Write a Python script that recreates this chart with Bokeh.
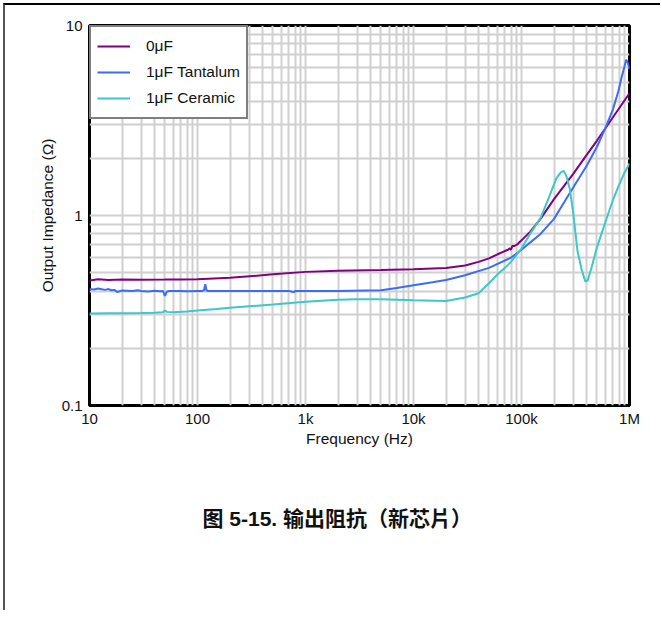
from bokeh.plotting import figure
from bokeh.models import FixedTicker, Legend, LegendItem, Title, InlineStyleSheet
from bokeh.embed import file_html
from bokeh.resources import INLINE

# ---- data ----
freq_0uF = [10, 12, 15, 20, 30, 50, 70, 100, 200, 500, 1000, 2000, 5000, 10000,
            20000, 30000, 40000, 50000, 60000, 70000, 75000, 78000, 80000, 82000,
            85000, 90000, 100000, 120000, 150000, 200000, 300000, 400000, 500000,
            700000, 1000000]
z_0uF = [0.455, 0.462, 0.458, 0.46, 0.459, 0.46, 0.461, 0.462, 0.47, 0.49, 0.505,
         0.512, 0.516, 0.522, 0.53, 0.545, 0.57, 0.595, 0.625, 0.65, 0.66, 0.672,
         0.66, 0.69, 0.69, 0.70, 0.74, 0.82, 0.96, 1.22, 1.65, 2.08, 2.48, 3.28, 4.4]

freq_tant = [10, 11, 12, 13, 14, 15, 16, 17, 18, 20, 22, 25, 28, 30, 35, 40, 45, 48,
             50, 52, 55, 60, 70, 80, 100, 110, 115, 118, 121, 125, 130, 150, 200, 300,
             500, 700, 760, 780, 800, 1000, 2000, 5000, 7000, 10000, 15000, 20000,
             30000, 50000, 80000, 100000, 120000, 150000, 200000, 250000, 300000,
             400000, 500000, 600000, 700000, 785000, 850000, 900000, 930000, 960000,
             1000000]
z_tant = [0.41, 0.408, 0.413, 0.409, 0.406, 0.41, 0.404, 0.406, 0.396, 0.403, 0.402,
          0.4, 0.404, 0.401, 0.398, 0.402, 0.399, 0.4, 0.378, 0.398, 0.401, 0.4, 0.401,
          0.399, 0.4, 0.4, 0.404, 0.435, 0.405, 0.4, 0.401, 0.4, 0.4, 0.4, 0.4, 0.4,
          0.397, 0.395, 0.4, 0.4, 0.4, 0.404, 0.415, 0.43, 0.445, 0.458, 0.485, 0.53,
          0.6, 0.66, 0.72, 0.8, 0.96, 1.18, 1.4, 1.82, 2.3, 2.9, 3.6, 4.47, 5.4, 6.1,
          6.6, 6.4, 5.9]

freq_cer = [10, 15, 20, 30, 40, 48, 50, 52, 60, 80, 100, 150, 200, 300, 500, 1000,
            2000, 3000, 5000, 10000, 20000, 30000, 40000, 50000, 60000, 70000, 80000,
            100000, 120000, 150000, 180000, 210000, 230000, 245000, 260000, 280000,
            300000, 330000, 360000, 390000, 410000, 440000, 500000, 600000, 700000,
            800000, 900000, 1000000]
z_cer = [0.305, 0.306, 0.306, 0.307, 0.308, 0.31, 0.316, 0.311, 0.31, 0.312, 0.316,
         0.322, 0.327, 0.333, 0.34, 0.352, 0.36, 0.362, 0.362, 0.358, 0.355, 0.37,
         0.39, 0.44, 0.49, 0.53, 0.57, 0.67, 0.8, 0.97, 1.25, 1.57, 1.68, 1.72, 1.62,
         1.38, 1.05, 0.65, 0.52, 0.45, 0.455, 0.52, 0.68, 0.93, 1.2, 1.45, 1.68, 1.88]

series_names = ["0\u03bcF", "1\u03bcF Tantalum", "1\u03bcF Ceramic"]
series_colors = ["#800080", "#3b6cf5", "#3cc8c8"]

x_ticks = [10, 100, 1000, 10000, 100000, 1000000]
x_tick_labels = ["10", "100", "1k", "10k", "100k", "1M"]
y_ticks = [0.1, 1, 10]
y_tick_labels = ["0.1", "1", "10"]

caption = "\u56fe 5-15. \u8f93\u51fa\u963b\u6297\uff08\u65b0\u82af\u7247\uff09"

FONT = "Liberation Sans"

p = figure(x_axis_type="log", y_axis_type="log",
           x_range=(10, 1e6), y_range=(0.1, 10),
           frame_width=540, frame_height=380,
           min_border_left=84, min_border_right=31,
           min_border_top=20, min_border_bottom=205,
           output_backend="svg", toolbar_location=None)

p.stylesheets = [InlineStyleSheet(css=":host { margin-left: 3px; margin-top: 3px; "
                                      "border-top: 2px solid #000000; "
                                      "border-left: 2px solid #555555; }")]

p.background_fill_color = "white"
p.border_fill_color = "white"
p.outline_line_color = "black"
p.outline_line_width = 3

# ticks
x_minor = [m * d for d in x_ticks[:-1] for m in range(2, 10)]
y_minor = [m * d for d in y_ticks[:-1] for m in range(2, 10)]
p.xaxis.ticker = FixedTicker(ticks=x_ticks, minor_ticks=x_minor)
p.yaxis.ticker = FixedTicker(ticks=y_ticks, minor_ticks=y_minor)
p.xaxis.major_label_overrides = {t: l for t, l in zip(x_ticks, x_tick_labels)}
p.yaxis.major_label_overrides = {t: l for t, l in zip(y_ticks, y_tick_labels)}

for ax in (p.xaxis, p.yaxis):
    ax.axis_line_color = None
    ax.major_tick_line_color = None
    ax.minor_tick_line_color = None
    ax.major_tick_out = 0
    ax.major_tick_in = 0
    ax.minor_tick_out = 0
    ax.major_label_text_font = FONT
    ax.major_label_text_font_size = "15px"
    ax.major_label_text_color = "#111111"
    ax.axis_label_text_font = FONT
    ax.axis_label_text_font_size = "15.5px"
    ax.axis_label_text_font_style = "normal"
    ax.axis_label_text_color = "#111111"

p.xaxis.axis_label = "Frequency (Hz)"
p.yaxis.axis_label = "Output Impedance (\u03a9)"
p.xaxis.major_label_standoff = 4
p.xaxis.axis_label_standoff = 0
p.yaxis.major_label_standoff = 7
p.yaxis.axis_label_standoff = 3

for g in (p.xgrid, p.ygrid):
    g.grid_line_color = "#d0d0d0"
    g.grid_line_width = 2
    g.minor_grid_line_color = "#d0d0d0"
    g.minor_grid_line_width = 2

r0 = p.line(freq_0uF, z_0uF, line_color=series_colors[0], line_width=2)
r1 = p.line(freq_tant, z_tant, line_color=series_colors[1], line_width=2)
r2 = p.line(freq_cer, z_cer, line_color=series_colors[2], line_width=2)

legend = Legend(items=[LegendItem(label=series_names[0], renderers=[r0]),
                       LegendItem(label=series_names[1], renderers=[r1]),
                       LegendItem(label=series_names[2], renderers=[r2])],
                location="top_left", margin=0, padding=6, spacing=0,
                label_height=26, glyph_height=26, glyph_width=33, label_standoff=16,
                border_line_color="black", border_line_width=2,
                background_fill_color="white", background_fill_alpha=1,
                label_text_font=FONT, label_text_font_size="15.5px",
                label_text_color="#111111")
p.add_layout(legend)

cap = Title(text=caption, align="left", offset=113, standoff=110,
            text_font="Liberation Sans, Noto Sans CJK TC", text_font_size="21px",
            text_font_style="bold", text_color="#111111")
p.add_layout(cap, "below")

open("out.html", "w").write(file_html(p, INLINE))
